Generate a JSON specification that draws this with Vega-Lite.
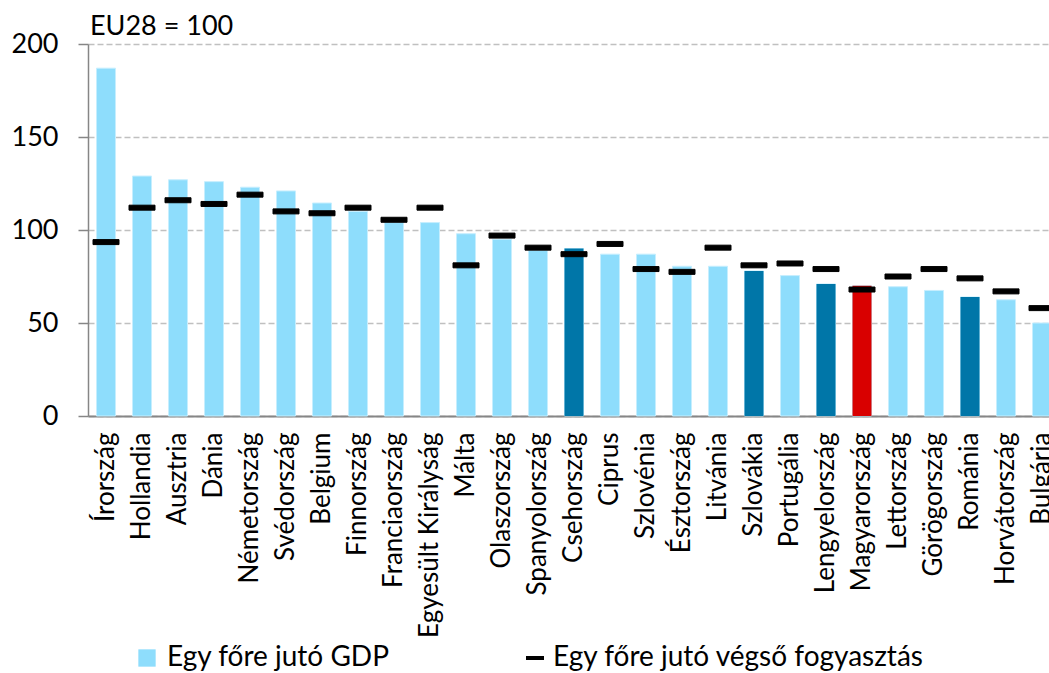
{
  "$schema": "https://vega.github.io/schema/vega-lite/v6.json",
  "autosize": {"type": "none"},
  "padding": {"left": 88, "top": 44, "right": 0, "bottom": 257},
  "width": 961,
  "height": 372,
  "background": "white",
  "title": {"text": "EU28 = 100", "anchor": "start", "frame": "group", "font": "Lato", "fontSize": 27, "fontWeight": "normal", "color": "black", "baseline": "alphabetic", "offset": 9, "dx": 2, "dy": 41},
  "config": {"view": {"stroke": null}, "font": "Lato"},
  "data": {"values": [
    {"orszag": "Írország", "gdp": 187, "fogy": 93.5, "csoport": "egyéb"},
    {"orszag": "Hollandia", "gdp": 129, "fogy": 112, "csoport": "egyéb"},
    {"orszag": "Ausztria", "gdp": 127, "fogy": 116, "csoport": "egyéb"},
    {"orszag": "Dánia", "gdp": 126, "fogy": 114, "csoport": "egyéb"},
    {"orszag": "Németország", "gdp": 123, "fogy": 119, "csoport": "egyéb"},
    {"orszag": "Svédország", "gdp": 121, "fogy": 110, "csoport": "egyéb"},
    {"orszag": "Belgium", "gdp": 114.5, "fogy": 109, "csoport": "egyéb"},
    {"orszag": "Finnország", "gdp": 110, "fogy": 112, "csoport": "egyéb"},
    {"orszag": "Franciaország", "gdp": 104, "fogy": 105.5, "csoport": "egyéb"},
    {"orszag": "Egyesült Királyság", "gdp": 104, "fogy": 112, "csoport": "egyéb"},
    {"orszag": "Málta", "gdp": 98, "fogy": 81, "csoport": "egyéb"},
    {"orszag": "Olaszország", "gdp": 95, "fogy": 97, "csoport": "egyéb"},
    {"orszag": "Spanyolország", "gdp": 89, "fogy": 90.5, "csoport": "egyéb"},
    {"orszag": "Csehország", "gdp": 90, "fogy": 87, "csoport": "régió"},
    {"orszag": "Ciprus", "gdp": 87, "fogy": 92.5, "csoport": "egyéb"},
    {"orszag": "Szlovénia", "gdp": 87, "fogy": 79, "csoport": "egyéb"},
    {"orszag": "Észtország", "gdp": 80.5, "fogy": 77.5, "csoport": "egyéb"},
    {"orszag": "Litvánia", "gdp": 80.5, "fogy": 90.5, "csoport": "egyéb"},
    {"orszag": "Szlovákia", "gdp": 78, "fogy": 81, "csoport": "régió"},
    {"orszag": "Portugália", "gdp": 75.5, "fogy": 82, "csoport": "egyéb"},
    {"orszag": "Lengyelország", "gdp": 71, "fogy": 79, "csoport": "régió"},
    {"orszag": "Magyarország", "gdp": 70, "fogy": 68, "csoport": "Magyarország"},
    {"orszag": "Lettország", "gdp": 69.5, "fogy": 75, "csoport": "egyéb"},
    {"orszag": "Görögország", "gdp": 67.5, "fogy": 79, "csoport": "egyéb"},
    {"orszag": "Románia", "gdp": 64, "fogy": 74, "csoport": "régió"},
    {"orszag": "Horvátország", "gdp": 62.5, "fogy": 67, "csoport": "egyéb"},
    {"orszag": "Bulgária", "gdp": 50, "fogy": 58, "csoport": "egyéb"}
  ]},
  "encoding": {
    "x": {
      "field": "orszag", "type": "nominal", "sort": null,
      "scale": {"range": [0, 972], "paddingInner": 0.472, "paddingOuter": 0.236},
      "axis": {"title": null, "labelAngle": -90, "labelFont": "Lato", "labelFontSize": 26, "labelColor": "black", "labelPadding": 16, "ticks": false, "domainColor": "#868686", "domainWidth": 2, "grid": false, "labelLimit": 400, "labelOverlap": false}
    }
  },
  "layer": [
    {
      "mark": {"type": "bar", "stroke": "#C6EEFE", "strokeWidth": 1},
      "encoding": {
        "y": {"field": "gdp", "type": "quantitative",
          "scale": {"domain": [0, 200], "nice": false},
          "axis": {"title": null, "values": [0, 50, 100, 150, 200], "labelFont": "Lato", "labelFontSize": 27, "labelColor": "black", "labelPadding": 20, "tickSize": 10, "tickColor": "#868686", "tickWidth": 1.5, "domainColor": "#868686", "domainWidth": 1.5, "gridColor": "#C0C0C0", "gridDash": [6, 3], "gridWidth": 1.5}},
        "color": {"datum": "Egy főre jutó GDP",
          "scale": {"domain": ["Egy főre jutó GDP"], "range": ["#8EDDFC"]},
          "legend": {"orient": "none", "legendX": 45, "legendY": 600, "title": null,
            "labelFont": "Lato", "labelFontSize": 28, "labelColor": "black", "symbolSize": 300, "symbolType": "square",
            "symbolStrokeWidth": 0, "symbolOpacity": 1, "labelOffset": 6, "labelLimit": 600}}
      }
    },
    {
      "transform": [{"filter": "datum.csoport !== 'egyéb'"}],
      "mark": {"type": "bar"},
      "encoding": {
        "y": {"field": "gdp", "type": "quantitative"},
        "fill": {"field": "csoport", "type": "nominal", "scale": {"domain": ["régió", "Magyarország"], "range": ["#0076A8", "#D90000"]}, "legend": null}
      }
    },
    {
      "mark": {"type": "tick", "thickness": 5, "size": 26, "opacity": 1, "color": "#000000", "strokeWidth": 1},
      "encoding": {
        "y": {"field": "fogy", "type": "quantitative"},
        "stroke": {"datum": "Egy főre jutó végső fogyasztás",
          "scale": {"domain": ["Egy főre jutó végső fogyasztás"], "range": ["#000000"]},
          "legend": {"orient": "none", "legendX": 433, "legendY": 600, "title": null,
            "labelFont": "Lato", "labelFontSize": 28, "labelColor": "black", "symbolType": "stroke", "symbolSize": 324,
            "symbolStrokeWidth": 4, "symbolOpacity": 1, "labelOffset": 4, "labelLimit": 600}}
      }
    }
  ]
}
